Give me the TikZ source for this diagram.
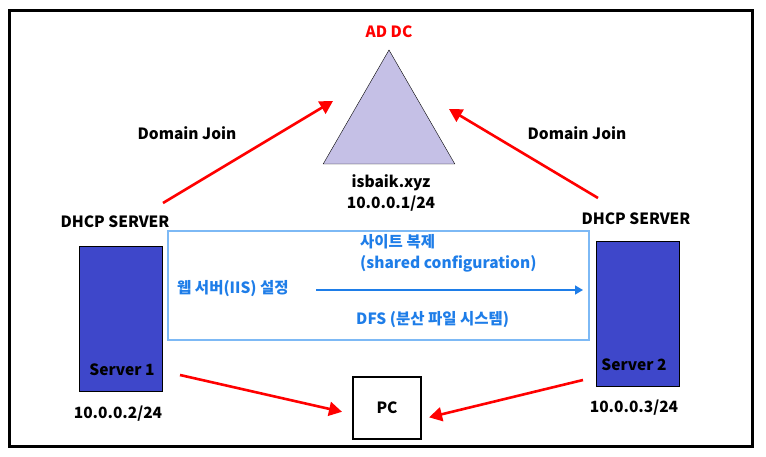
\documentclass[tikz,border=0pt]{standalone}
\usepackage{fontspec}
\setmainfont{Noto Sans CJK KR}
\usepackage{tikz}
\usetikzlibrary{shapes.geometric, arrows.meta, positioning, calc}
\definecolor{serverblue}{RGB}{62, 71, 202}
\definecolor{dclavender}{RGB}{197, 192, 230}
\definecolor{boxblue}{RGB}{125, 185, 245}
\definecolor{textblue}{RGB}{30, 125, 232}

\begin{document}
\begin{tikzpicture}[
    x=1pt, y=-1pt,
    font=\bfseries\fontsize{15.5}{18}\selectfont,
    label/.style={inner sep=1pt, align=center},
    bluetext/.style={label, text=textblue},
    serverbox/.style={
        rectangle, draw=black, fill=serverblue, thin,
        minimum width=83pt, minimum height=145pt, inner sep=0pt
    },
    dctriangle/.style={
        regular polygon, regular polygon sides=3, draw=black, thin,
        fill=dclavender, minimum size=152pt, inner sep=0pt
    },
    pcbox/.style={
        rectangle, draw=black, line width=2.5pt,
        minimum width=68pt, minimum height=62pt
    },
    joinarrow/.style={-{Triangle[length=13pt, width=14pt]}, line width=2.6pt, color=red},
    syncarrow/.style={-{Triangle[length=8pt, width=9pt]}, line width=1.4pt, color=textblue}
]
    \useasboundingbox (0,0) rectangle (766,457);
    \draw [line width=3pt] (9,11) rectangle (752,446);

    % domain controller
    \node [dctriangle] (addc) at (389,126) {};
    \node [label, text=red] (dctitle) at (389,32) {AD DC};
    \node [label] (dcname) at (391,183) {isbaik.xyz};
    \node [label, below=2pt of dcname] (dcip) {10.0.0.1/24};

    % servers
    \node [serverbox] (serv1) at (120.5,318.5) {};
    \node [serverbox] (serv2) at (637.5,313.5) {};
    \node [label] at (122,370) (s1name) {Server 1};
    \node [label] at (634,365) (s2name) {Server 2};
    \node [label] (dhcp1) at (115,222) {DHCP SERVER};
    \node [label] (dhcp2) at (636,219) {DHCP SERVER};
    \node [label] (ip1) at (118,414) {10.0.0.2/24};
    \node [label] (ip2) at (634,408) {10.0.0.3/24};

    % replication box
    \draw [draw=boxblue, line width=1.6pt] (168,231) rectangle (589,340);
    \node [bluetext, anchor=west] (site) at (359,242) {사이트 복제};
    \node [bluetext, anchor=west] (shared) at (359,264) {(shared configuration)};
    \node [bluetext, anchor=west] (web) at (176,289) {웹 서버(IIS) 설정};
    \node [bluetext, anchor=west] (dfs) at (355,320) {DFS (분산 파일 시스템)};
    \coordinate (syncstart) at (316,290);
    \coordinate (syncend) at (583,290);
    \draw [syncarrow] (syncstart) -- (syncend);

    % pc
    \node [pcbox] (pc) at (387,408) {PC};

    % domain join arrows
    \node [label] (join1) at (187,133) {Domain Join};
    \node [label] (join2) at (577,133) {Domain Join};
    \coordinate (j1start) at (163,203);
    \coordinate (j1end) at (333,101);
    \coordinate (j2start) at (598,198);
    \coordinate (j2end) at (449,109);
    \draw [joinarrow] (j1start) -- (j1end);
    \draw [joinarrow] (j2start) -- (j2end);

    % client arrows
    \coordinate (p1start) at (180,375);
    \coordinate (p2start) at (583,380);
    \draw [joinarrow, shorten >=10pt] (p1start) -- ([yshift=-6pt]pc.west);
    \draw [joinarrow, shorten >=7pt] (p2start) -- ([yshift=-11pt]pc.east);
\end{tikzpicture}
\end{document}
